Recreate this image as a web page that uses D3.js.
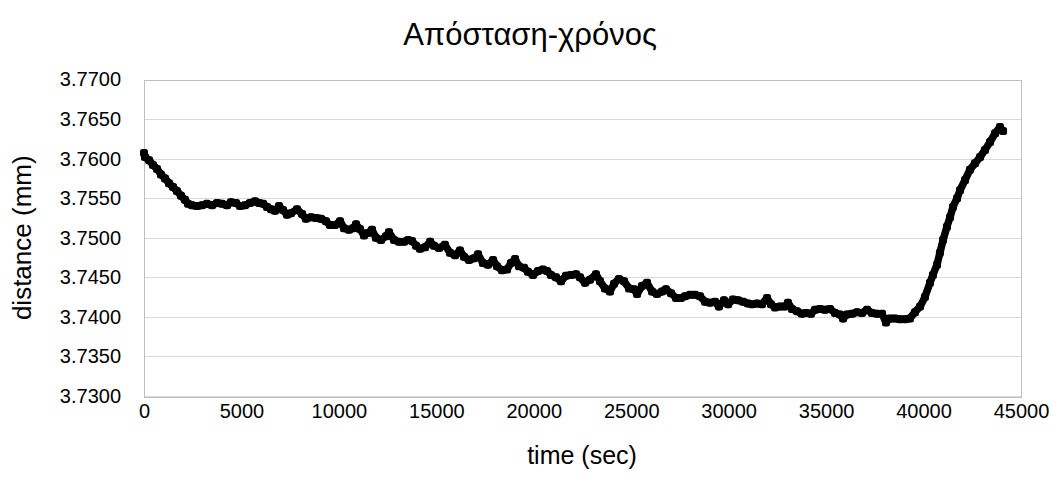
<!DOCTYPE html>
<html>
<head>
<meta charset="utf-8">
<script src="https://cdn.jsdelivr.net/npm/d3@7"></script>
<style>
  html, body { margin: 0; padding: 0; background: #fff; }
  svg { display: block; font-family: "Liberation Sans", Arial, sans-serif; }
</style>
</head>
<body>
<svg id="chart" width="1053" height="492"></svg>
<script>
// Measurement: gap distance vs. elapsed time
const chartTitle = "Απόσταση-χρόνος";
const xTitle = "time (sec)";
const yTitle = "distance (mm)";

const xTicks = [0, 5000, 10000, 15000, 20000, 25000, 30000, 35000, 40000, 45000];
const yTicks = [3.7300, 3.7350, 3.7400, 3.7450, 3.7500, 3.7550, 3.7600, 3.7650, 3.7700];

const timeSec = [
  0, 50, 260, 460, 670, 870, 1080, 1280, 1490, 1690, 1900, 2100, 2260,
  2460, 2720, 2980, 3230, 3490, 3750, 4000, 4260, 4460, 4720, 4930, 5180,
  5440, 5700, 5900, 6110, 6310, 6520, 6720, 6930, 7130, 7340,
  7540, 7850, 8110, 8310, 8570, 8830, 9080, 9340, 9540, 9800, 10060, 10260,
  10520, 10720, 10880, 11080, 11290, 11490, 11700, 11900, 12160, 12420, 12570, 12830,
  13080, 13340, 13550, 13750, 13960, 14160, 14420, 14680,
  14880, 15140, 15440, 15700, 15960, 16210, 16420, 16680, 16930, 17140, 17390, 17650,
  17910, 18110, 18370, 18630, 18830, 19040, 19240, 19500, 19700, 19960, 20220, 20470,
  20680, 20880, 21140, 21400, 21650, 21910, 22170,
  22370, 22630, 22880, 23190, 23400, 23650, 23910, 24120, 24370, 24630, 24890, 25140,
  25300, 25550, 25810, 26070, 26320, 26580, 26780, 27040, 27300, 27550, 27760, 28020,
  28270, 28530, 28790, 29040, 29300, 29500,
  29760, 29970, 30220, 30480, 30740, 30990, 31200, 31450, 31710, 31970, 32170, 32380,
  32630, 32890, 33040, 33250, 33510, 33760, 33970, 34220, 34430, 34690, 34940, 35200,
  35460, 35710, 35870, 36070, 36330, 36590, 36840, 37100, 37350, 37610, 37870, 38070,
  38280, 38530, 38790, 39050, 39300,
  39560, 39820, 40070, 40330, 40480, 40690, 40840, 41000, 41200, 41360, 41510, 41720,
  41870, 42130, 42380, 42640, 42900, 43150, 43410, 43670, 43920, 44080
];

const distanceMm = [
  3.7607, 3.7602, 3.7598, 3.7592, 3.7587, 3.7580, 3.7575, 3.7569, 3.7564, 3.7559, 3.7553, 3.7548, 3.7543,
  3.7541, 3.7540, 3.7541, 3.7543, 3.7541, 3.7544, 3.7543, 3.7541, 3.7545, 3.7544, 3.7540, 3.7541,
  3.7544, 3.7546, 3.7544, 3.7543, 3.7539, 3.7536, 3.7534, 3.7540, 3.7535, 3.7529,
  3.7531, 3.7536, 3.7530, 3.7524, 3.7526, 3.7525, 3.7524, 3.7521, 3.7516, 3.7516, 3.7521, 3.7512,
  3.7510, 3.7512, 3.7517, 3.7511, 3.7503, 3.7506, 3.7510, 3.7500, 3.7497, 3.7502, 3.7507, 3.7497,
  3.7495, 3.7495, 3.7497, 3.7496, 3.7490, 3.7486, 3.7488, 3.7495,
  3.7490, 3.7487, 3.7491, 3.7481, 3.7478, 3.7484, 3.7476, 3.7472, 3.7474, 3.7479, 3.7468, 3.7466,
  3.7472, 3.7464, 3.7459, 3.7460, 3.7468, 3.7473, 3.7464, 3.7462, 3.7457, 3.7453, 3.7458, 3.7460,
  3.7458, 3.7453, 3.7450, 3.7445, 3.7452, 3.7453, 3.7454,
  3.7450, 3.7443, 3.7447, 3.7454, 3.7445, 3.7436, 3.7432, 3.7442, 3.7448, 3.7445, 3.7436, 3.7435,
  3.7429, 3.7439, 3.7443, 3.7432, 3.7429, 3.7432, 3.7435, 3.7430, 3.7424, 3.7424, 3.7426, 3.7428,
  3.7428, 3.7426, 3.7419, 3.7418, 3.7419, 3.7413,
  3.7421, 3.7416, 3.7422, 3.7421, 3.7419, 3.7417, 3.7416, 3.7417, 3.7416, 3.7424, 3.7416, 3.7412,
  3.7413, 3.7413, 3.7418, 3.7410, 3.7407, 3.7404, 3.7405, 3.7404, 3.7409, 3.7410, 3.7409, 3.7410,
  3.7405, 3.7403, 3.7398, 3.7403, 3.7404, 3.7406, 3.7405, 3.7409, 3.7405, 3.7404, 3.7404, 3.7393,
  3.7398, 3.7398, 3.7397, 3.7397, 3.7398,
  3.7406, 3.7413, 3.7425, 3.7443, 3.7453, 3.7466, 3.7481, 3.7497, 3.7514, 3.7526, 3.7539, 3.7550,
  3.7560, 3.7573, 3.7586, 3.7594, 3.7602, 3.7611, 3.7621, 3.7632, 3.7640, 3.7635
];

const data = timeSec.map((t, i) => ({ t, d: distanceMm[i] }));

const svg = d3.select("#chart");
const margin = { left: 144, right: 1053 - 1021, top: 79.5, bottom: 492 - 396 };
const width = 1053 - margin.left - margin.right;
const height = 492 - margin.top - margin.bottom;

const x = d3.scaleLinear().domain([0, 45000]).range([margin.left, margin.left + width]);
const y = d3.scaleLinear().domain([3.73, 3.77]).range([margin.top + height, margin.top]);

// horizontal gridlines
svg.append("g")
  .selectAll("line")
  .data(yTicks)
  .join("line")
  .attr("x1", margin.left)
  .attr("x2", margin.left + width)
  .attr("y1", d => Math.round(y(d)) + 0.5)
  .attr("y2", d => Math.round(y(d)) + 0.5)
  .attr("stroke", "#d9d9d9")
  .attr("stroke-width", 1);

// plot-area frame
svg.append("rect")
  .attr("x", margin.left + 0.5)
  .attr("y", Math.round(margin.top) + 0.5)
  .attr("width", width)
  .attr("height", Math.round(height))
  .attr("fill", "none")
  .attr("stroke", "#bfbfbf")
  .attr("stroke-width", 1);

// y axis labels
const yAxis = d3.axisLeft(y)
  .tickValues(yTicks)
  .tickFormat(d3.format(".4f"))
  .tickSize(0)
  .tickPadding(23);
svg.append("g")
  .attr("transform", `translate(${margin.left},0)`)
  .call(yAxis)
  .call(g => g.select(".domain").remove())
  .call(g => g.selectAll("text")
    .attr("font-family", "Liberation Sans, Arial, sans-serif")
    .attr("font-size", 20)
    .attr("fill", "#000"));

// x axis labels
const xAxis = d3.axisBottom(x)
  .tickValues(xTicks)
  .tickFormat(d3.format("d"))
  .tickSize(0)
  .tickPadding(8);
svg.append("g")
  .attr("transform", `translate(0,${margin.top + height})`)
  .call(xAxis)
  .call(g => g.select(".domain").remove())
  .call(g => g.selectAll("text")
    .attr("font-family", "Liberation Sans, Arial, sans-serif")
    .attr("font-size", 20)
    .attr("fill", "#000"));

// series: dense markers joined into a thick trace
const line = d3.line().x(d => x(d.t)).y(d => y(d.d));
svg.append("path")
  .datum(data)
  .attr("d", line)
  .attr("fill", "none")
  .attr("stroke", "#000")
  .attr("stroke-width", 7.5)
  .attr("stroke-linejoin", "round")
  .attr("stroke-linecap", "round");
svg.append("g")
  .selectAll("rect")
  .data(data)
  .join("rect")
  .attr("x", d => x(d.t) - 4)
  .attr("y", d => y(d.d) - 4)
  .attr("width", 8)
  .attr("height", 8)
  .attr("rx", 2.5)
  .attr("fill", "#000");

// titles
svg.append("text")
  .attr("x", 530)
  .attr("y", 45)
  .attr("text-anchor", "middle")
  .attr("font-size", 31)
  .attr("fill", "#000")
  .text(chartTitle);

svg.append("text")
  .attr("x", 582)
  .attr("y", 464)
  .attr("text-anchor", "middle")
  .attr("font-size", 25)
  .attr("fill", "#000")
  .text(xTitle);

svg.append("text")
  .attr("transform", `translate(31,${margin.top + height / 2}) rotate(-90)`)
  .attr("text-anchor", "middle")
  .attr("font-size", 26)
  .attr("fill", "#000")
  .text(yTitle);
</script>
</body>
</html>
